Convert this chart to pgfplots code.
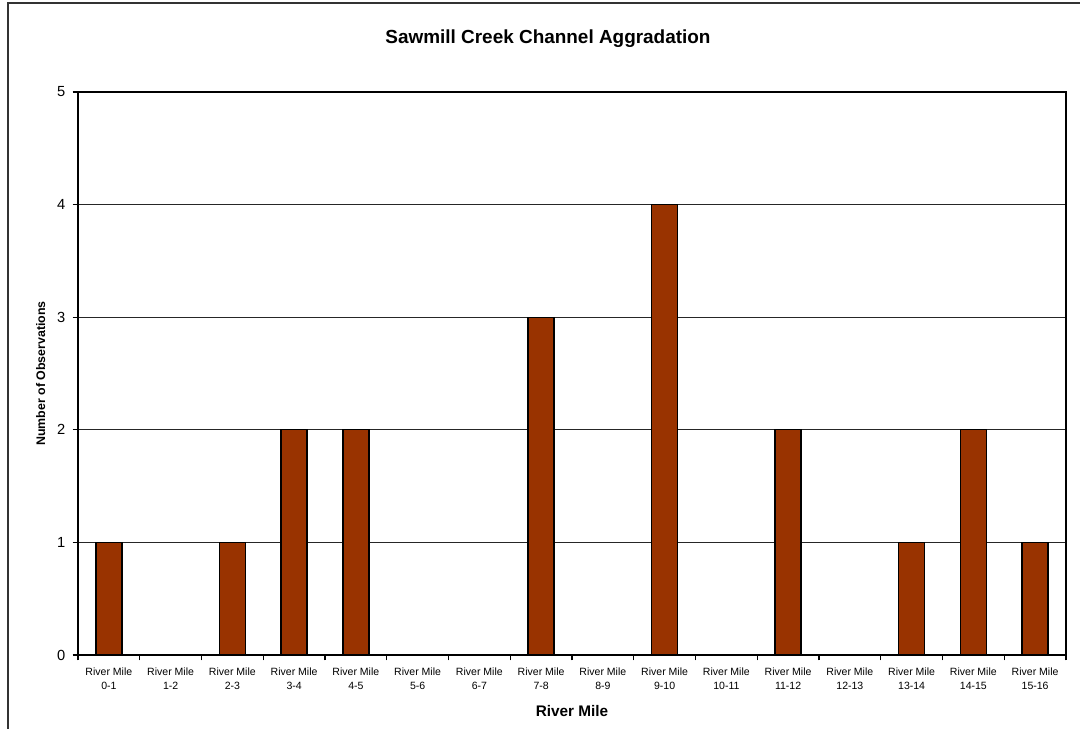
\documentclass[border=0pt]{standalone}
\usepackage{pgfplots}
\pgfplotsset{compat=1.18}
\usepackage{fontspec}
\setmainfont{Liberation Sans}
\definecolor{barbrown}{HTML}{993300}
\begin{document}
\begin{tikzpicture}[x=0.75pt,y=0.75pt]
\path[use as bounding box] (0,0) rectangle (1080,728);
\draw[line width=1.1pt, black!80] (8,-2) -- (8,725) -- (1082,725);
\node[font=\fontsize{14.2}{16}\selectfont\bfseries] at (548,689) {Sawmill Creek Channel Aggradation};
\coordinate (A) at (78,73);
\begin{axis}[
  at={(A)}, anchor=south west,
  scale only axis,
  width=741pt, height=422.25pt,
  xmin=-0.5, xmax=15.5,
  ymin=0, ymax=5,
  xtick={0,...,15},
  xticklabels={{River Mile\\0-1},{River Mile\\1-2},{River Mile\\2-3},{River Mile\\3-4},{River Mile\\4-5},{River Mile\\5-6},{River Mile\\6-7},{River Mile\\7-8},{River Mile\\8-9},{River Mile\\9-10},{River Mile\\10-11},{River Mile\\11-12},{River Mile\\12-13},{River Mile\\13-14},{River Mile\\14-15},{River Mile\\15-16}},
  xticklabel style={align=center, font=\fontsize{7.9}{10.5}\selectfont, yshift=-2pt},
  major x tick style={draw=none},
  minor xtick={-0.5,0.5,...,15.5},
  minor tick length=4pt,
  ytick={0,...,5},
  major tick length=4pt,
  tick align=outside,
  xtick pos=bottom, ytick pos=left,
  tick style={black, line width=0.8pt},
  yticklabel style={font=\fontsize{11}{12}\selectfont, xshift=-2pt},
  /pgf/number format/assume math mode=true,
  ymajorgrids,
  grid style={black!85, line width=0.55pt},
  axis line style={black, line width=1.1pt},
  xlabel={River Mile},
  xlabel style={font=\fontsize{11.5}{13}\selectfont\bfseries, yshift=-5pt},
  ylabel={Number of Observations},
  ylabel style={font=\fontsize{9.3}{10}\selectfont\bfseries, yshift=2pt},
  ybar, bar width=19.5pt,
]
\addplot[fill=barbrown, draw=black, line width=1pt] coordinates {
(0,1) (1,0) (2,1) (3,2) (4,2) (5,0) (6,0) (7,3) (8,0) (9,4) (10,0) (11,2) (12,0) (13,1) (14,2) (15,1)
};
\end{axis}
\end{tikzpicture}
\end{document}
